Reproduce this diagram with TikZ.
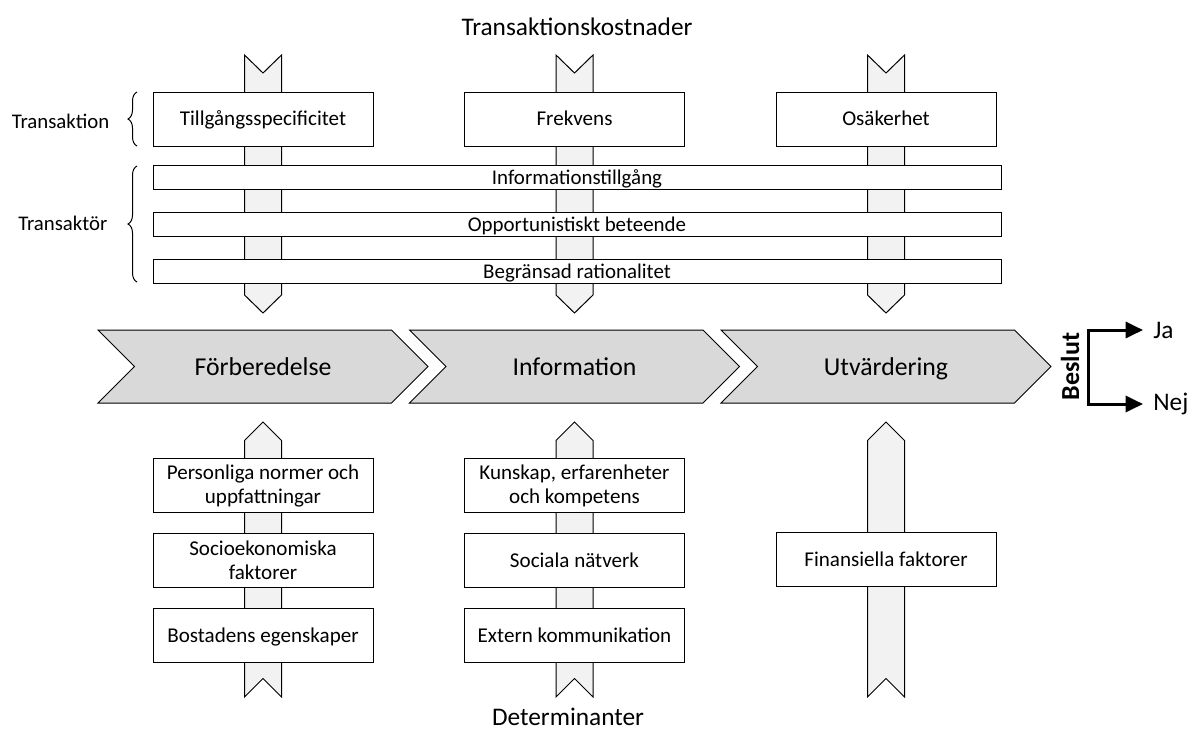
\documentclass[tikz,border=0pt]{standalone}
\usepackage{fontspec}
\setmainfont{Carlito}
\usepackage{tikz}
\usetikzlibrary{arrows.meta,positioning,decorations.pathreplacing}
\usepackage{xcolor}
\definecolor{chevgray}{HTML}{D9D9D9}
\definecolor{bandgray}{HTML}{F2F2F2}

\begin{document}
\begin{tikzpicture}[x=0.75pt,y=-0.75pt,node distance=15pt,
			box node/.style={rectangle,draw,fill=white,line width=0.75pt,minimum width=165pt,minimum height=40.5pt,inner ysep=1pt,align=center,font=\fontsize{15.8}{18}\selectfont},
			one line/.style={text height=#1,text depth=0pt},
			one line/.default=10.2pt,
			wide node/.style={rectangle,draw,fill=white,line width=0.75pt,minimum width=636pt,minimum height=18pt,inner sep=0pt,one line=10.1pt,font=\fontsize{15.7}{18}\selectfont},
			band arrow/.style={draw,fill=bandgray,line width=0.75pt},
			chevron arrow/.style={draw,fill=chevgray,line width=0.75pt},
			chev node/.style={one line=12.4pt,font=\fontsize{19.3}{23}\selectfont},
			side node/.style={font=\fontsize{15.6}{19}\selectfont},
			title node/.style={font=\fontsize{19}{23}\selectfont},
			side brace/.style={decorate,decoration={brace,amplitude=6.75pt},line width=0.75pt},
			choice node/.style={anchor=west,inner xsep=7.5pt,font=\fontsize{19}{23}\selectfont},
			decision/.style={{Triangle[length=13pt,width=12pt]}-{Triangle[length=13pt,width=12pt]},line width=2.25pt}]
			
			\useasboundingbox (0,0) rectangle (1189,733);
			
			\draw[band arrow] (244.5,55) -- (263,73) -- (281.5,55) -- (281.5,295) -- (263,313) -- (244.5,295) -- cycle;
			\draw[band arrow] (556,55) -- (574.5,73) -- (593,55) -- (593,295) -- (574.5,313) -- (556,295) -- cycle;
			\draw[band arrow] (867.5,55) -- (886,73) -- (904.5,55) -- (904.5,295) -- (886,313) -- (867.5,295) -- cycle;
			\draw[band arrow] (263,422) -- (281.5,440.5) -- (281.5,697) -- (263,678.5) -- (244.5,697) -- (244.5,440.5) -- cycle;
			\draw[band arrow] (574.5,422) -- (593,440.5) -- (593,697) -- (574.5,678.5) -- (556,697) -- (556,440.5) -- cycle;
			\draw[band arrow] (886,422) -- (904.5,440.5) -- (904.5,697) -- (886,678.5) -- (867.5,697) -- (867.5,440.5) -- cycle;
			
			\node[title node] (top) at (577,27) {Transaktionskostnader};
			\node[title node] (bottom) at (568,717) {Determinanter};
			
			\node[box node,one line] (t1) at (263,119) {Tillgångsspecificitet};
			\node[box node,one line] (t2) at (574.5,119) {Frekvens};
			\node[box node,one line] (t3) at (886,119) {Osäkerhet};
			
			\node[wide node] (w1) at (577,177.5) {Informationstillgång};
			\node[wide node] (w2) [below=16.5pt of w1] {Opportunistiskt beteende};
			\node[wide node] (w3) [below=16.5pt of w2] {Begränsad rationalitet};
			
			\draw[side brace] (137,146) -- (137,92);
			\draw[side brace] (137,282) -- (137,166);
			\node[side node,anchor=east] (s1) at (114,121) {Transaktion};
			\node[side node,anchor=east] (s2) at (112,223) {Transaktör};
			
			\draw[chevron arrow] (98,330) -- (391.5,330) -- (428,366.5) -- (391.5,403) -- (98,403) -- (134.5,366.5) -- cycle;
			\draw[chevron arrow] (409.5,330) -- (703,330) -- (739.5,366.5) -- (703,403) -- (409.5,403) -- (446,366.5) -- cycle;
			\draw[chevron arrow] (721,330) -- (1014.5,330) -- (1051,366.5) -- (1014.5,403) -- (721,403) -- (757.5,366.5) -- cycle;
			\node[chev node] (c1) at (263,367.5) {Förberedelse};
			\node[chev node] (c2) at (574.5,367.5) {Information};
			\node[chev node] (c3) at (886,367.5) {Utvärdering};
			
			\node[rotate=90,font=\fontsize{19.5}{23}\selectfont\bfseries] (beslut) at (1070,366.5) {Beslut};
			\coordinate (bj) at (1088,330);
			\coordinate (bn) at (1088,404);
			\node[choice node] (ja) at (1143,330) {Ja};
			\node[choice node] (nej) at (1143,404) {Nej};
			\draw[decision] (ja.west) -- (bj) -- (bn) -- (nej.west);
			
			\node[box node] (p1) at (263,485.5) {Personliga normer och\\uppfattningar};
			\node[box node] (p2) [below=of p1] {Socioekonomiska\\faktorer};
			\node[box node,one line] (p3) [below=of p2] {Bostadens egenskaper};
			
			\node[box node] (k1) at (574.5,485.5) {Kunskap, erfarenheter\\och kompetens};
			\node[box node,one line] (k2) [below=of k1] {Sociala nätverk};
			\node[box node,one line] (k3) [below=of k2] {Extern kommunikation};
			
			\node[box node,one line] (f1) at (886,559.5) {Finansiella faktorer};
			\end{tikzpicture}
\end{document}
